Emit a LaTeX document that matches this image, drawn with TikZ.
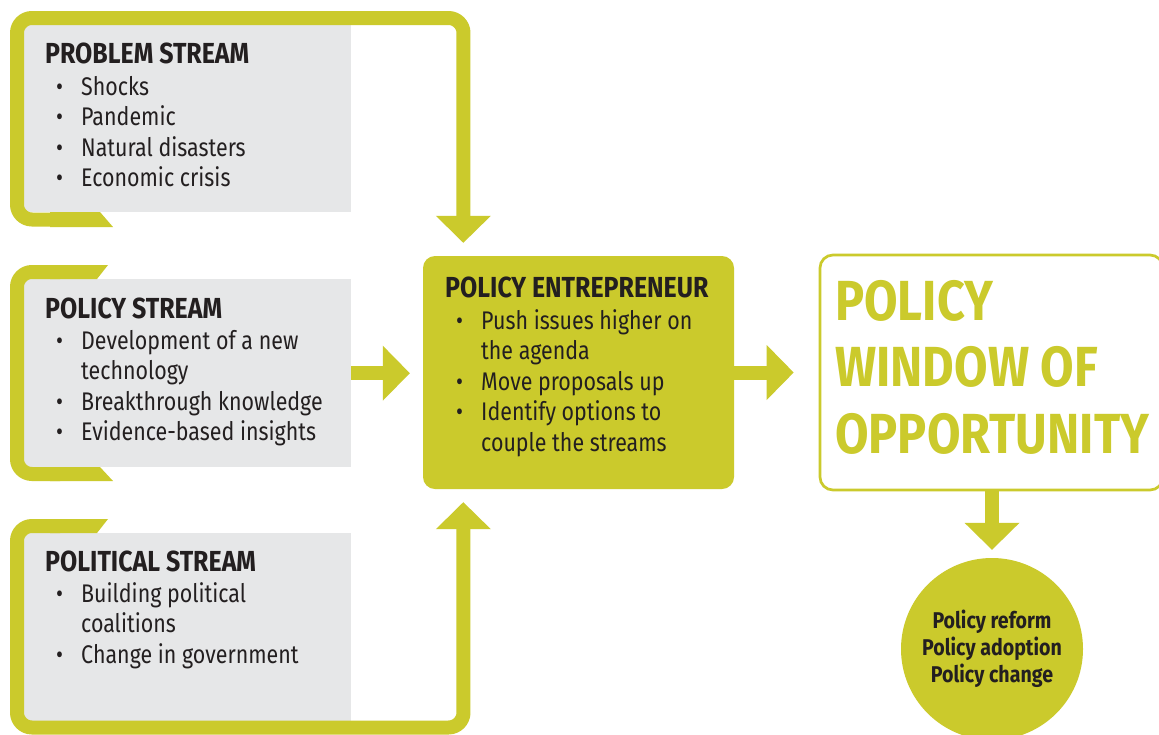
\documentclass[tikz,border=0pt]{standalone}
\usepackage{fontspec}
\setmainfont{Fira Sans}
\newfontfamily\barfont[FakeStretch=0.84]{Fira Sans}
\newfontfamily\barbold[FakeStretch=0.86]{Fira Sans}
\usetikzlibrary{arrows.meta,calc}
\definecolor{pgreen}{HTML}{CBCA2C}
\definecolor{pgrey}{HTML}{E6E7E8}
\definecolor{ink}{HTML}{231F20}
% heading, bullet item and continuation line inside a list
\newcommand\hd[1]{{\barbold\bfseries\fontsize{29}{30.8}\selectfont #1}}
\newcommand\itm[1]{\hspace*{11pt}\makebox[25pt][l]{\textbullet}#1}
\newcommand\cnt[1]{\hspace*{36pt}#1}
\begin{document}
\begin{tikzpicture}[x=1pt,y=-1pt,
  greybox/.style={fill=pgrey, draw=none, inner sep=0pt, anchor=north west},
  band/.style={draw=pgreen, line width=14pt, rounded corners=15pt},
  flow/.style={draw=pgreen, line width=14pt,
    -{Triangle[width=55pt,length=27pt,line width=0pt]}},
  listtxt/.style={inner sep=0pt, anchor=base west, text=ink,
    font=\barfont\fontsize{25.5}{30.6}\selectfont},
  stub/.style={fill=pgreen, draw=none}]
\clip (0,0) rectangle (1159,734);
\fill[white] (0,0) rectangle (1159,734);

% grey stream panels
\node[greybox, minimum width=331pt, minimum height=191pt] (probbox) at (20,21) {};
\node[greybox, minimum width=331pt, minimum height=188pt] (polbox) at (20,279) {};
\node[greybox, minimum width=331pt, minimum height=194pt] (politbox) at (20,533) {};

% central and right boxes
\node[fill=pgreen, rounded corners=12pt, minimum width=311pt, minimum height=233pt,
      inner sep=0pt] (ent) at (578.5,372.5) {};
\node[draw=pgreen, line width=2.7pt, rounded corners=13pt, minimum width=343pt,
      minimum height=235pt, inner sep=0pt] (win) at (991.5,372.5) {};
\node[circle, fill=pgreen, minimum size=182pt, inner sep=0pt, text=ink, align=center,
      font=\barbold\bfseries\fontsize{22.8}{27}\selectfont] (circ) at (992,649)
      {Policy reform\\Policy adoption\\Policy change};

% green frames with their cut ends
\coordinate (pstart) at (60,219.5);
\coordinate (lstart) at (60,526);
\fill[stub] (50,212) -- (100,212) -- (113,227) -- (50,227) -- cycle;
\fill[stub] (50,265) -- (108,265) -- (97,279) -- (50,279) -- cycle;
\fill[stub] (50,467) -- (100,467) -- (113,481) -- (50,481) -- cycle;
\fill[stub] (50,519) -- (108,519) -- (97,533) -- (50,533) -- cycle;
\draw[band] (60,272) -- (17,272) -- (17,474) -- (60,474);

% connectors into the policy entrepreneur and onwards
\draw[band, flow, shorten >=13pt] (pstart) -- (17,219.5) -- (17,18) -- (463.5,18)
  -- ($(ent.north west)+(40.5,0)$);
\draw[band, flow, shorten >=13pt] (lstart) -- (17,526) -- (17,727.5) -- (463.5,727.5)
  -- ($(ent.south west)+(40.5,0)$);
\draw[flow, shorten >=13pt] (polbox.east) -- (polbox.east -| ent.west);
\draw[flow, shorten >=25pt] (ent.east) -- (win.west);
\draw[flow, shorten >=8pt] (win.south -| circ.north) -- (circ.north);

% texts
\node[listtxt] (probtxt) at (45,63) {\begin{tabular}[t]{@{}l@{}}
  \hd{PROBLEM STREAM}\\[1.5pt] \itm{Shocks}\\ \itm{Pandemic}\\
  \itm{Natural disasters}\\ \itm{Economic crisis}\end{tabular}};
\node[listtxt] (poltxt) at (45,318) {\begin{tabular}[t]{@{}l@{}}
  \hd{POLICY STREAM}\\[0.5pt] \itm{Development of a new}\\ \cnt{technology}\\
  \itm{Breakthrough knowledge}\\ \itm{Evidence-based insights}\end{tabular}};
\node[listtxt] (polittxt) at (45,571) {\begin{tabular}[t]{@{}l@{}}
  \hd{POLITICAL STREAM}\\[0.5pt] \itm{Building political}\\ \cnt{coalitions}\\
  \itm{Change in government}\end{tabular}};
\node[listtxt] (enttxt) at (445,297) {\begin{tabular}[t]{@{}l@{}}
  \hd{POLICY ENTREPRENEUR}\\[1.5pt] \itm{Push issues higher on}\\ \cnt{the agenda}\\
  \itm{Move proposals up}\\ \itm{Identify options to}\\
  \cnt{couple the streams}\end{tabular}};
\node[inner sep=0pt, anchor=base west, text=pgreen,
      font=\barbold\bfseries\fontsize{56.5}{66.5}\selectfont] (wintxt) at (835,320)
  {\begin{tabular}[t]{@{}l@{}}POLICY\\ WINDOW OF\\ OPPORTUNITY\end{tabular}};
\end{tikzpicture}
\end{document}
